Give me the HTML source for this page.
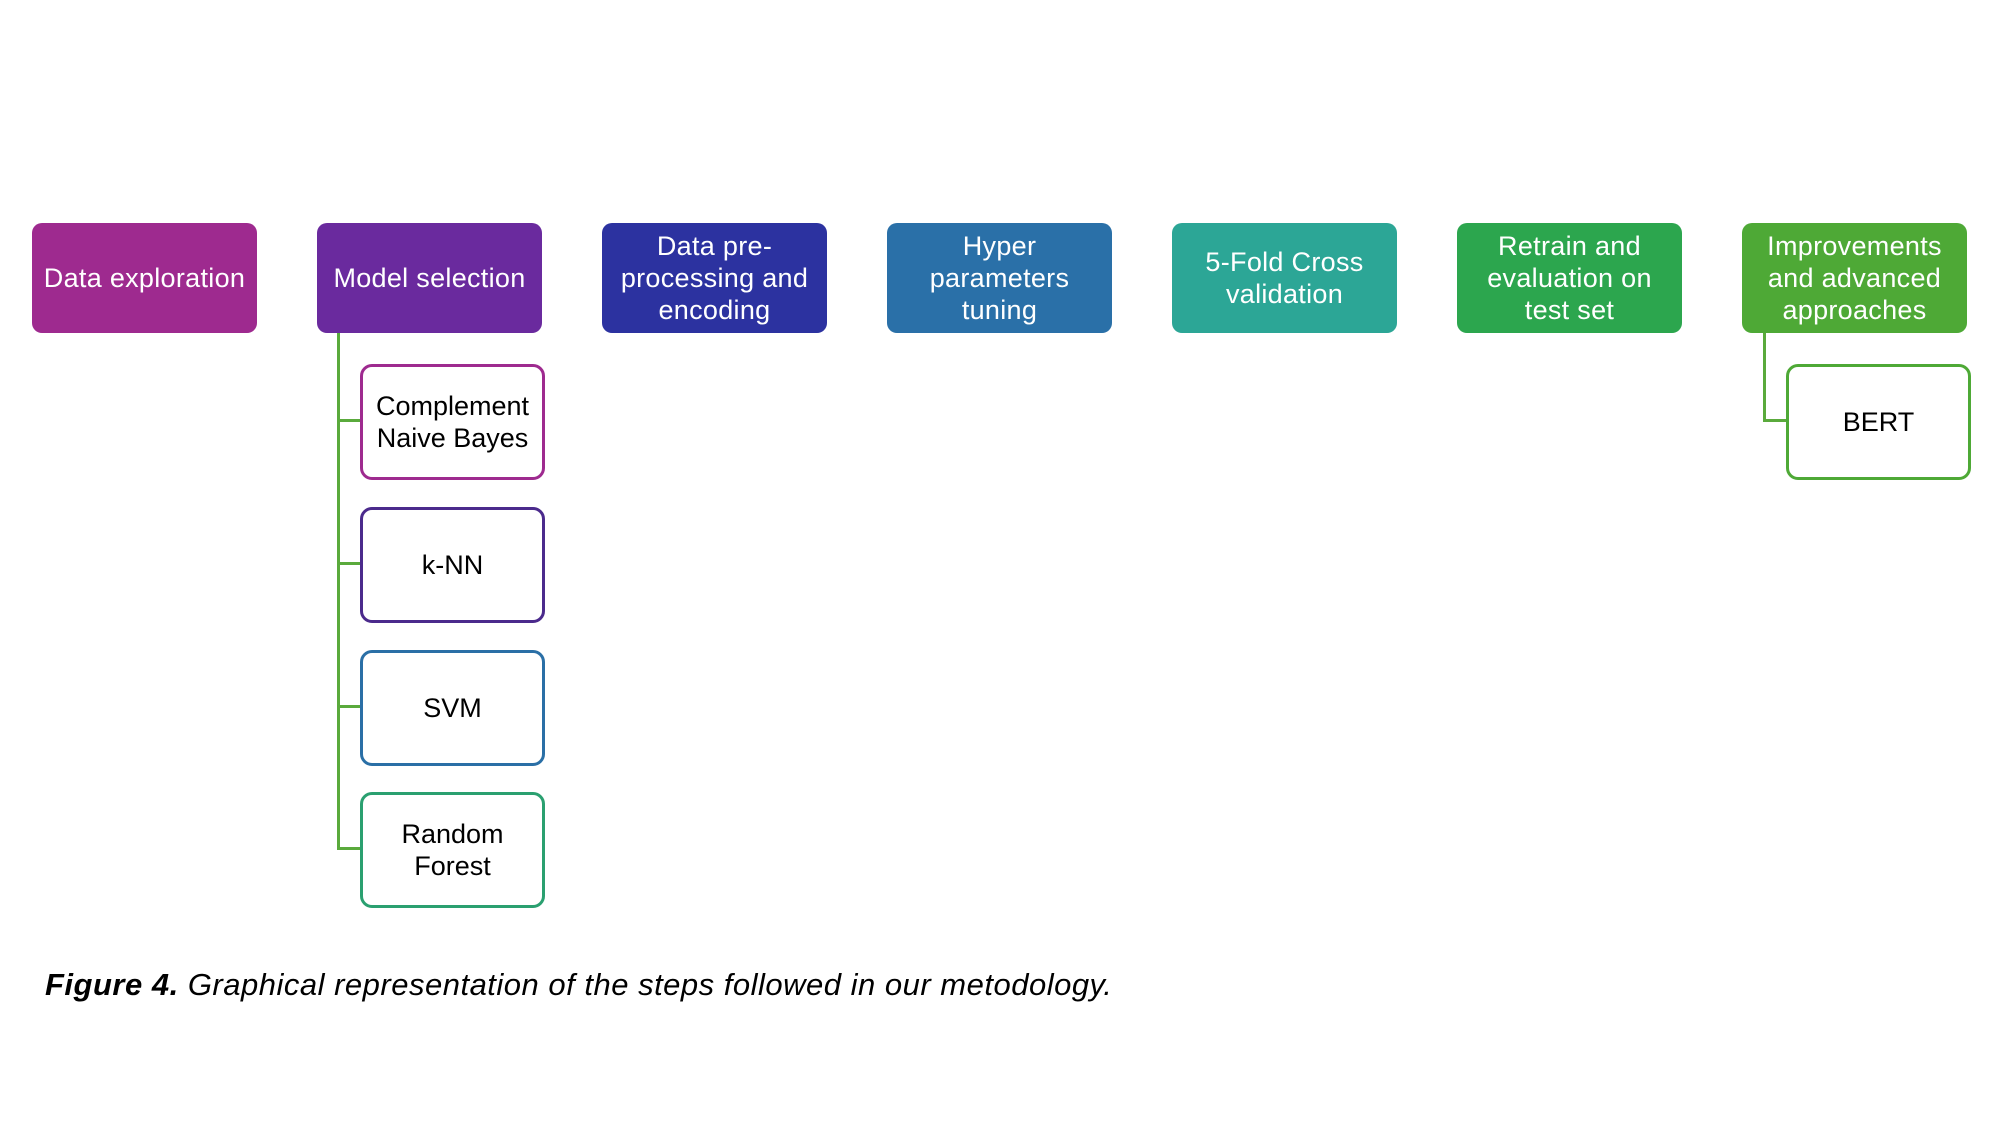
<!DOCTYPE html>
<html><head><style>
body{margin:0;width:2000px;height:1125px;background:#fff;position:relative;font-family:"Liberation Sans",sans-serif;overflow:hidden}
.b{position:absolute;top:223px;width:225px;height:110px;border-radius:10px;color:#fff;font-size:27px;line-height:32px;letter-spacing:0.3px;display:flex;align-items:center;justify-content:center;text-align:center}
.c{position:absolute;width:179px;height:110px;border:3px solid;border-radius:12px;background:#fff;color:#000;font-size:27px;line-height:32px;display:flex;align-items:center;justify-content:center;text-align:center}
.l{position:absolute;background:#5aaa3c}
</style></head><body>
<div class="b" style="left:32px;background:#9e2a8f">Data exploration</div>
<div class="b" style="left:317px;background:#6a2a9e">Model selection</div>
<div class="b" style="left:602px;background:#2c32a0">Data pre-<br>processing and<br>encoding</div>
<div class="b" style="left:887px;background:#2a70a8">Hyper<br>parameters<br>tuning</div>
<div class="b" style="left:1172px;background:#2ca696">5-Fold Cross<br>validation</div>
<div class="b" style="left:1457px;background:#2ca64e">Retrain and<br>evaluation on<br>test set</div>
<div class="b" style="left:1742px;background:#4ea936">Improvements<br>and advanced<br>approaches</div>

<div class="l" style="left:337px;top:333px;width:3px;height:516px"></div>
<div class="l" style="left:337px;top:419px;width:25px;height:3px"></div>
<div class="l" style="left:337px;top:562px;width:25px;height:3px"></div>
<div class="l" style="left:337px;top:705px;width:25px;height:3px"></div>
<div class="l" style="left:337px;top:847px;width:25px;height:3px"></div>
<div class="c" style="left:360px;top:364px;border-color:#9e2a8f">Complement<br>Naive Bayes</div>
<div class="c" style="left:360px;top:507px;border-color:#4b2a8c">k-NN</div>
<div class="c" style="left:360px;top:650px;border-color:#2a6fa6">SVM</div>
<div class="c" style="left:360px;top:792px;border-color:#2aa070">Random<br>Forest</div>

<div class="l" style="left:1763px;top:333px;width:3px;height:89px"></div>
<div class="l" style="left:1763px;top:419px;width:25px;height:3px"></div>
<div class="c" style="left:1786px;top:364px;border-color:#4ea936">BERT</div>

<div style="position:absolute;left:45px;top:967px;font-size:31px;letter-spacing:0.5px;font-style:italic;color:#000"><b>Figure 4.</b> Graphical representation of the steps followed in our metodology.</div>
</body></html>
